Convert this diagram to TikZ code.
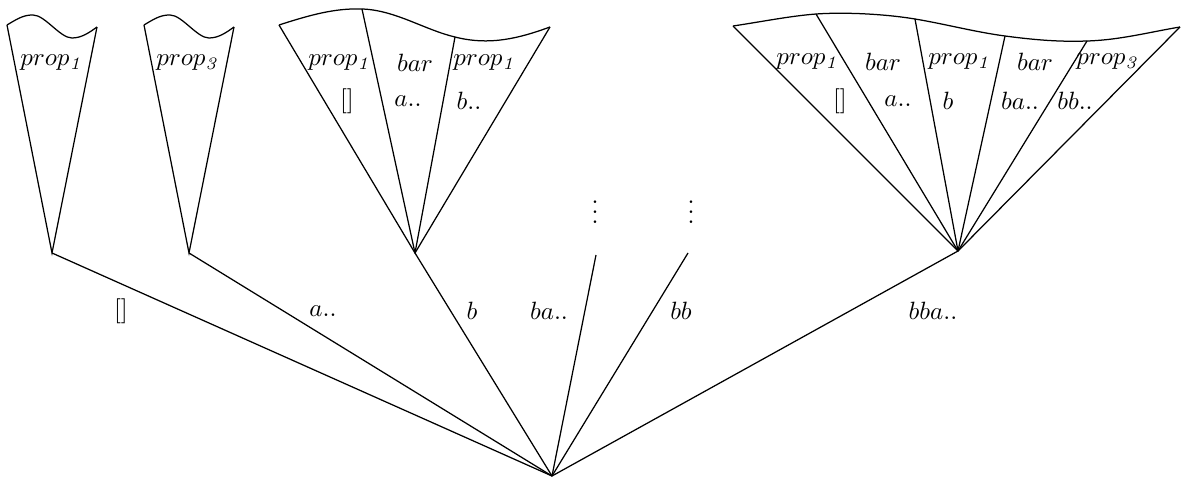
\documentclass[tikz,border=0pt]{standalone}
\begin{document}
\begin{tikzpicture}[x=0.4pt,y=-0.4pt,line width=0.5pt,
  lbl/.style={inner sep=0pt,anchor=center}]
\useasboundingbox (0,0) rectangle (1182,480);
% root and apexes
\coordinate (root) at (552,476);
\coordinate (A1) at (52,253);
\coordinate (A2) at (189,253);
\coordinate (A3) at (415,253);
\coordinate (Aba) at (596,255);
\coordinate (Abb) at (688,253);
\coordinate (A5) at (958,251);
% edges from root
\draw (root) -- (A1);
\draw (root) -- (A2);
\draw (root) -- (A3);
\draw (root) -- (Aba);
\draw (root) -- (Abb);
\draw (root) -- (A5);
% edge labels
\node[lbl] (e1) at (121,311) {$[]$};
\node[lbl] (e2) at (323,311) {$a..$};
\node[lbl] (e3) at (472,311) {$b$};
\node[lbl] (e4) at (549,311) {$ba..$};
\node[lbl] (e5) at (681,311) {$bb$};
\node[lbl] (e6) at (933,311) {$bba..$};
% dots
\node[lbl] (d1) at (595,205) {$\vdots$};
\node[lbl] (d2) at (691,205) {$\vdots$};
% fan 1
\coordinate (f1l) at (7,25);
\coordinate (f1r) at (97,27);
\draw (f1l) -- (A1) -- (f1r);
\draw (f1l) .. controls (20,17) and (25,15) .. (33,15) .. controls (45,15) and (60,38) .. (72,38) .. controls (82,38) and (90,32) .. (f1r);
\node[lbl] (t1) at (52,63) {$prop_{\mathit{1}}$};
% fan 2
\coordinate (f2l) at (144,25);
\coordinate (f2r) at (234,27);
\draw (f2l) -- (A2) -- (f2r);
\draw (f2l) .. controls (157,17) and (162,15) .. (170,15) .. controls (182,15) and (197,38) .. (209,38) .. controls (219,38) and (227,32) .. (f2r);
\node[lbl] (t2) at (188,63) {$prop_{\mathit{3}}$};
% fan 3
\coordinate (f3a) at (279,25);
\coordinate (f3b) at (362,9);
\coordinate (f3c) at (455,37);
\coordinate (f3d) at (550,27);
\draw (f3a) -- (A3) -- (f3d);
\draw (A3) -- (f3b);
\draw (A3) -- (f3c);
\draw (f3a) .. controls (310,15) and (335,8) .. (f3b) .. controls (395,10) and (425,30) .. (f3c) .. controls (490,46) and (520,38) .. (f3d);
\node[lbl] (t3a) at (340,63) {$prop_{\mathit{1}}$};
\node[lbl] (t3b) at (347,101) {$[]$};
\node[lbl] (t3c) at (415,63) {$bar$};
\node[lbl] (t3d) at (408,101) {$a..$};
\node[lbl] (t3e) at (485,63) {$prop_{\mathit{1}}$};
\node[lbl] (t3f) at (469,101) {$b..$};
% fan 5
\coordinate (f5a) at (733,26);
\coordinate (f5b) at (816,14);
\coordinate (f5c) at (915,19);
\coordinate (f5d) at (1005,36);
\coordinate (f5e) at (1087,41);
\coordinate (f5f) at (1180,27);
\draw (f5a) -- (A5) -- (f5f);
\draw (A5) -- (f5b);
\draw (A5) -- (f5c);
\draw (A5) -- (f5d);
\draw (A5) -- (f5e);
\draw (f5a) .. controls (760,22) and (790,16) .. (f5b) .. controls (845,12) and (885,14) .. (f5c) .. controls (945,24) and (975,32) .. (f5d) .. controls (1035,40) and (1060,42) .. (f5e) .. controls (1120,40) and (1150,32) .. (f5f);
\node[lbl] (t5a) at (808,62) {$prop_{\mathit{1}}$};
\node[lbl] (t5b) at (840,101) {$[]$};
\node[lbl] (t5c) at (883,62) {$bar$};
\node[lbl] (t5d) at (898,101) {$a..$};
\node[lbl] (t5e) at (960,62) {$prop_{\mathit{1}}$};
\node[lbl] (t5f) at (948,101) {$b$};
\node[lbl] (t5g) at (1035,62) {$bar$};
\node[lbl] (t5h) at (1020,101) {$ba..$};
\node[lbl] (t5i) at (1108,62) {$prop_{\mathit{3}}$};
\node[lbl] (t5j) at (1075,101) {$bb..$};
\end{tikzpicture}
\end{document}
